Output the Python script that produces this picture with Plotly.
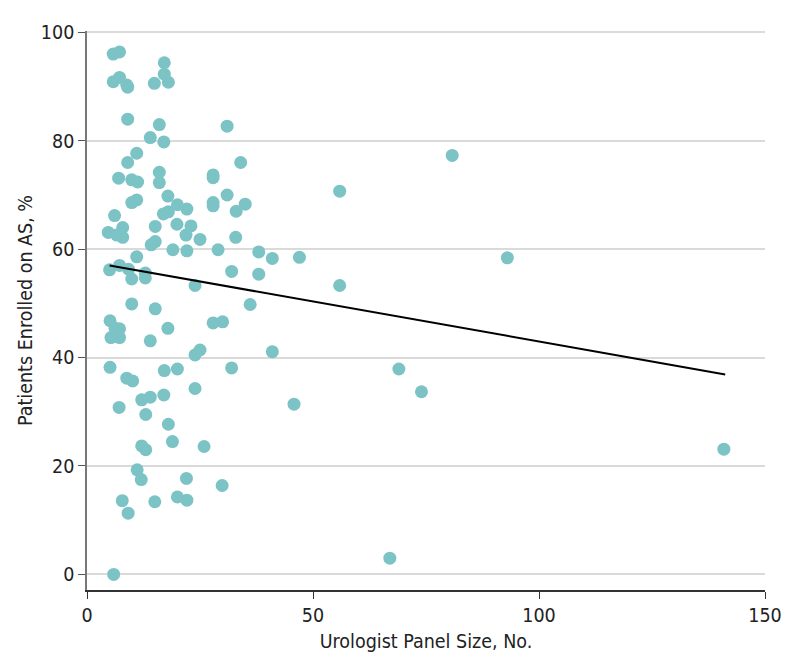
import plotly.graph_objects as go

# Urologist panel size (No.) and patients enrolled on active surveillance (%)
panel_size = [
    5.8, 7.2, 17.1, 5.8, 7.2, 8.8, 9.0, 14.9, 17.1, 18.0,
    9.0, 16.0, 31.0, 14.0, 17.0, 11.0, 9.0, 7.0, 9.9, 11.2,
    16.0, 16.0, 27.9, 27.9, 34.0, 31.0, 35.0, 33.0, 27.9, 27.9,
    17.9, 9.9, 11.0, 20.0, 22.1, 16.9, 18.0, 6.1, 15.1, 7.9,
    19.9, 23.0, 4.7, 6.6, 7.9, 21.9, 25.0, 32.9, 14.2, 15.1,
    19.0, 22.1, 29.0, 38.0, 41.0, 11.0, 5.0, 7.2, 9.2, 9.9,
    12.9, 12.9, 32.0, 38.0, 23.9, 9.9, 36.1, 15.1, 5.1, 6.2,
    7.2, 5.3, 7.2, 17.9, 27.9, 30.0, 14.0, 23.9, 25.0, 41.0,
    5.1, 8.8, 10.1, 17.1, 20.0, 32.0, 23.9, 17.0, 12.1, 14.0,
    7.1, 13.0, 18.0, 12.1, 13.0, 18.9, 25.9, 11.1, 12.0, 22.0,
    29.9, 7.8, 9.1, 15.0, 20.0, 22.1, 5.9, 80.8, 55.9, 47.0,
    93.0, 55.9, 69.0, 74.0, 45.8, 140.9, 67.0,
]
enrolled_pct = [
    96.0, 96.4, 94.4, 90.9, 91.7, 90.3, 89.9, 90.6, 92.3, 90.8,
    84.0, 83.0, 82.7, 80.6, 79.8, 77.7, 76.0, 73.1, 72.8, 72.4,
    74.2, 72.3, 73.7, 73.2, 76.0, 70.0, 68.3, 67.0, 68.6, 68.0,
    69.8, 68.6, 69.1, 68.2, 67.4, 66.5, 66.9, 66.2, 64.2, 64.0,
    64.6, 64.3, 63.1, 62.6, 62.2, 62.6, 61.8, 62.2, 60.8, 61.4,
    59.9, 59.7, 59.9, 59.5, 58.3, 58.6, 56.2, 57.0, 56.3, 54.5,
    55.6, 54.7, 55.9, 55.4, 53.3, 49.9, 49.8, 49.0, 46.8, 45.4,
    45.3, 43.7, 43.7, 45.4, 46.4, 46.6, 43.1, 40.5, 41.4, 41.1,
    38.2, 36.2, 35.7, 37.6, 37.9, 38.1, 34.3, 33.1, 32.2, 32.7,
    30.8, 29.5, 27.7, 23.7, 23.0, 24.5, 23.6, 19.3, 17.5, 17.7,
    16.4, 13.6, 11.3, 13.4, 14.3, 13.7, 0.0, 77.3, 70.7, 58.5,
    58.4, 53.3, 37.9, 33.7, 31.4, 23.1, 3.0,
]

# Fitted trend line end points
trend_x = [5.0, 141.2]
trend_y = [57.0, 36.9]

x_ticks = [0, 50, 100, 150]
y_ticks = [0, 20, 40, 60, 80, 100]

FONT = "DejaVu Sans Condensed, Liberation Sans Narrow, DejaVu Sans, sans-serif"
FS = 19.5

fig = go.Figure()
fig.add_trace(go.Scatter(
    x=panel_size, y=enrolled_pct, mode="markers",
    marker=dict(size=13, color="rgb(124,195,198)", line=dict(width=0)),
    showlegend=False, hoverinfo="x+y",
))
fig.add_trace(go.Scatter(
    x=trend_x, y=trend_y, mode="lines",
    line=dict(color="black", width=2),
    showlegend=False,
))

fig.update_layout(
    width=794, height=671,
    margin=dict(l=87, r=29, t=31, b=81),
    paper_bgcolor="white", plot_bgcolor="white",
    font=dict(family=FONT, size=FS, color="#222"),
    xaxis=dict(
        range=[0, 150], tickvals=x_ticks, showgrid=False, zeroline=False,
        showline=True, linecolor="#333", linewidth=1.5,
        ticks="outside", ticklen=7, tickcolor="#333", tickwidth=1,
        title=dict(text="Urologist Panel Size, No.", standoff=8,
                   font=dict(size=FS)),
        tickfont=dict(size=FS),
    ),
    yaxis=dict(
        range=[-2.88, 100.26], tickvals=y_ticks, showgrid=True,
        gridcolor="#dadada", gridwidth=1.5, zeroline=False,
        showline=True, linecolor="#777", linewidth=1.5,
        ticks="outside", ticklen=7, tickcolor="#555", tickwidth=1,
        title=dict(text="Patients Enrolled on AS, %", standoff=3,
                   font=dict(size=FS)),
        tickfont=dict(size=FS),
    ),
)

fig.write_html(
    "out.html",
    config={"displayModeBar": False},
    post_script="document.body.style.margin='0';document.body.style.padding='0';",
)
